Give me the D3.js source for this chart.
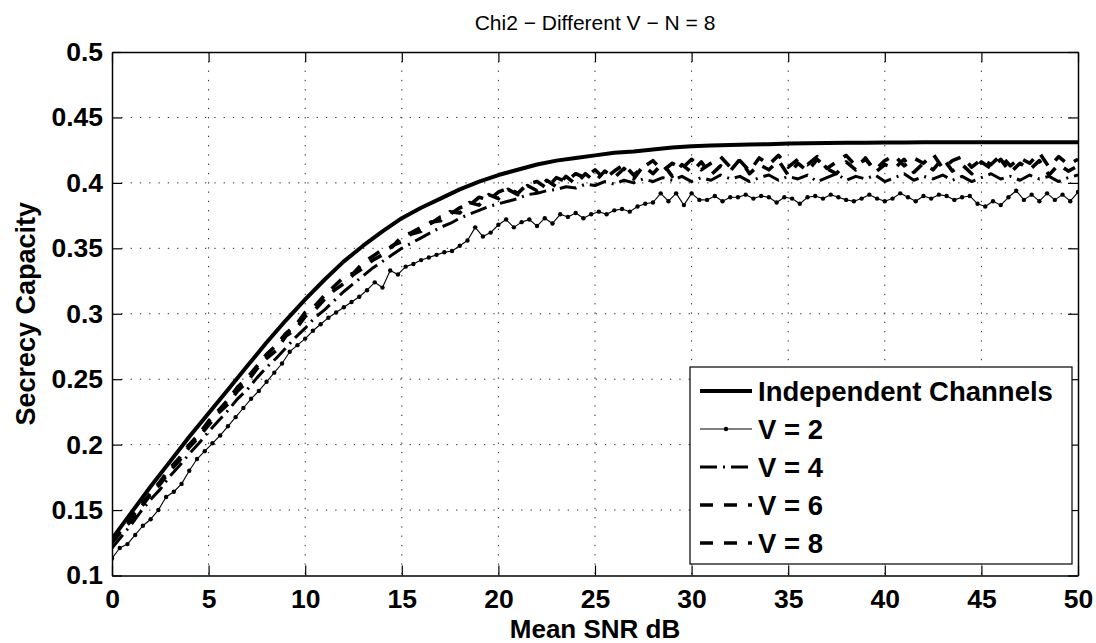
<!DOCTYPE html>
<html><head><meta charset="utf-8">
<script src="https://cdn.jsdelivr.net/npm/d3@7"></script>
<style>
body{margin:0;background:#fff}
svg{display:block}
text{font-family:"Liberation Sans",Arial,Helvetica,sans-serif;fill:#000}
</style>
</head><body>
<svg id="chart" width="1096" height="643"></svg>
<script>
// ---------- data ----------
const title = "Chi2 \u2212 Different V \u2212 N = 8";
const xLabel = "Mean SNR dB";
const yLabel = "Secrecy Capacity";
const xTicks = [0,5,10,15,20,25,30,35,40,45,50];
const yTicks = [0.1,0.15,0.2,0.25,0.3,0.35,0.4,0.45,0.5];
const seriesNames = ["Independent Channels","V = 2","V = 4","V = 6","V = 8"];

// Independent channels, 1 dB grid 0..50
const indep = [
.128,.148,.168,.187,.206,.224,.242,.260,.278,.295,
.311,.326,.340,.352,.363,.373,.381,.388,.395,.401,
.406,.410,.414,.417,.419,.421,.423,.424,.4255,.427,
.428,.4285,.429,.4293,.4296,.430,.4302,.4304,.4306,.4307,
.4308,.4309,.431,.431,.431,.431,.431,.431,.431,.431,
.431];

// V = 2, 0.4 dB grid 0..50
const v2 = [
.113,.121,.124,.131,.138,.143,.150,.160,.164,.170,
.180,.189,.195,.201,.207,.214,.221,.228,.235,.241,
.248,.255,.262,.271,.276,.281,.287,.292,.297,.301,
.305,.309,.313,.318,.324,.320,.333,.330,.336,.338,
.341,.343,.345,.347,.348,.352,.356,.366,.359,.362,
.368,.372,.366,.370,.372,.367,.373,.369,.376,.374,
.377,.373,.376,.378,.376,.379,.380,.378,.382,.384,
.385,.392,.386,.392,.383,.392,.387,.387,.390,.386,
.389,.389,.391,.388,.390,.389,.385,.389,.388,.384,
.389,.390,.388,.391,.389,.387,.386,.388,.391,.388,
.386,.388,.392,.389,.386,.390,.388,.391,.390,.387,
.389,.390,.384,.382,.386,.383,.389,.394,.387,.391,
.386,.392,.387,.391,.386,.393];

// V = 4, 0.5 dB grid 0..50
const v4 = [
.121,.130,.139,.149,.158,.166,.176,.184,.193,.201,
.210,.218,.226,.235,.242,.251,.259,.266,.274,.282,
.289,.297,.303,.310,.317,.323,.329,.335,.340,.345,
.350,.354,.358,.362,.366,.369,.373,.376,.379,.382,
.384,.386,.388,.391,.392,.394,.395,.397,.396,.399,
.398,.401,.399,.402,.400,.403,.401,.404,.402,.405,
.401,.404,.402,.406,.403,.405,.401,.404,.406,.402,
.405,.403,.406,.401,.404,.407,.402,.405,.403,.406,
.401,.404,.407,.402,.405,.403,.406,.402,.405,.401,
.404,.407,.403,.405,.402,.406,.403,.405,.401,.404,
.406];

// V = 6, 0.5 dB grid 0..50
const v6 = [
.125,.134,.142,.152,.162,.170,.180,.188,.198,.206,
.215,.224,.231,.241,.248,.258,.266,.272,.283,.288,
.298,.303,.311,.318,.323,.330,.335,.341,.345,.352,
.355,.361,.363,.370,.371,.378,.377,.385,.383,.391,
.388,.395,.391,.398,.394,.402,.397,.405,.399,.407,
.401,.409,.404,.411,.403,.413,.407,.415,.405,.414,
.408,.416,.406,.413,.409,.418,.407,.414,.410,.417,
.406,.415,.409,.418,.411,.407,.416,.410,.419,.408,
.414,.411,.418,.408,.415,.410,.419,.409,.414,.407,
.416,.411,.418,.408,.415,.410,.417,.406,.414,.409,
.413];

// V = 8, 0.5 dB grid 0..50
const v8 = [
.126,.135,.144,.154,.163,.172,.182,.190,.200,.208,
.218,.226,.234,.244,.251,.260,.269,.276,.285,.291,
.301,.306,.314,.321,.328,.331,.339,.344,.349,.351,
.359,.362,.366,.369,.374,.376,.381,.383,.389,.387,
.393,.396,.392,.399,.401,.396,.404,.401,.407,.404,
.410,.403,.409,.414,.406,.412,.417,.409,.415,.411,
.418,.410,.415,.420,.412,.417,.409,.419,.414,.421,
.412,.418,.414,.420,.411,.416,.421,.413,.418,.410,
.417,.421,.413,.419,.415,.422,.411,.417,.420,.412,
.418,.414,.421,.413,.419,.415,.423,.412,.420,.414,
.418];

// ---------- layout ----------
const L = 112, R = 1078, T = 52, B = 575.5;
const svg = d3.select("#chart");
const x = d3.scaleLinear().domain([0,50]).range([L,R]);
const y = d3.scaleLinear().domain([0.1,0.5]).range([B,T]);
const FS_TICK = 26.5, FS_LEG = 27.5;

// grid
const grid = svg.append("g").attr("stroke","#000").attr("stroke-width",1)
  .attr("stroke-dasharray","1.3,8").attr("opacity",0.85);
xTicks.slice(1,-1).forEach(t=>{
  grid.append("line").attr("x1",x(t)).attr("x2",x(t)).attr("y1",T).attr("y2",B);
});
yTicks.slice(1,-1).forEach(t=>{
  grid.append("line").attr("x1",L).attr("x2",R).attr("y1",y(t)).attr("y2",y(t));
});

// axes (MATLAB style box with inward ticks)
const tickLen = 10;
const axB = svg.append("g").attr("transform",`translate(0,${B})`)
  .call(d3.axisBottom(x).tickValues(xTicks).tickSizeInner(-tickLen).tickSizeOuter(0).tickPadding(14).tickFormat(d3.format("d")));
const axT = svg.append("g").attr("transform",`translate(0,${T})`)
  .call(d3.axisTop(x).tickValues(xTicks).tickSizeInner(-tickLen).tickSizeOuter(0).tickFormat(""));
const axL = svg.append("g").attr("transform",`translate(${L},0)`)
  .call(d3.axisLeft(y).tickValues(yTicks).tickSizeInner(-tickLen).tickSizeOuter(0).tickPadding(9).tickFormat(d=>String(+d.toFixed(2))));
const axR = svg.append("g").attr("transform",`translate(${R},0)`)
  .call(d3.axisRight(y).tickValues(yTicks).tickSizeInner(-tickLen).tickSizeOuter(0).tickFormat(""));
[axB,axT,axL,axR].forEach(a=>{
  a.select(".domain").attr("stroke","#000").attr("stroke-width",1.5);
  a.selectAll(".tick line").attr("stroke","#000").attr("stroke-width",1.2);
  a.selectAll("text").attr("font-size",FS_TICK).attr("font-weight","bold")
   .attr("font-family","'Liberation Sans',Arial,sans-serif").attr("fill","#000");
});
axB.selectAll(".tick text").attr("dy","0.71em");

// clip
svg.append("clipPath").attr("id","clip").append("rect")
  .attr("x",L).attr("y",T).attr("width",R-L).attr("height",B-T);
const plot = svg.append("g").attr("clip-path","url(#clip)");

function pts(arr){ const n=arr.length; return arr.map((v,i)=>[i*50/(n-1), v]); }
const line = d3.line().x(d=>x(d[0])).y(d=>y(d[1]));

const styles = [
  {data: indep, w: 4,   dash: null},
  {data: v2,    w: 1.1, dash: null, marker: true},
  {data: v4,    w: 3,   dash: "17,6,2,6"},
  {data: v6,    w: 3.6, dash: "13,11"},
  {data: v8,    w: 3.6, dash: "13,11"}
];
styles.forEach(s=>{
  const p = pts(s.data);
  plot.append("path").datum(p).attr("d",line).attr("fill","none")
    .attr("stroke","#000").attr("stroke-width",s.w)
    .attr("stroke-dasharray",s.dash).attr("stroke-linejoin","round");
  if(s.marker){
    plot.selectAll(null).data(p).enter().append("circle")
      .attr("cx",d=>x(d[0])).attr("cy",d=>y(d[1])).attr("r",2.2).attr("fill","#000");
  }
});

// legend
const lg = svg.append("g");
const LX0 = 690, LX1 = 1072, LY0 = 367, LY1 = 564;
lg.append("rect").attr("x",LX0).attr("y",LY0).attr("width",LX1-LX0).attr("height",LY1-LY0)
  .attr("fill","#fff").attr("stroke","#000").attr("stroke-width",1.2);
const rowY = [391,429,467,505,543];
seriesNames.forEach((name,i)=>{
  const s = styles[i], yy = rowY[i];
  lg.append("line").attr("x1",700).attr("x2",752).attr("y1",yy).attr("y2",yy)
    .attr("stroke","#000").attr("stroke-width",s.w).attr("stroke-dasharray",s.dash);
  if(s.marker) lg.append("circle").attr("cx",726).attr("cy",yy).attr("r",2.2).attr("fill","#000");
  lg.append("text").attr("x",758).attr("y",yy).attr("dy","0.36em")
    .attr("font-size",FS_LEG).attr("font-weight","bold").text(name);
});

// titles
svg.append("text").attr("x",(L+R)/2).attr("y",30).attr("text-anchor","middle")
  .attr("font-size",21).text(title);
svg.append("text").attr("x",(L+R)/2).attr("y",638).attr("text-anchor","middle")
  .attr("font-size",26).attr("font-weight","bold").text(xLabel);
svg.append("text").attr("transform",`translate(35,${(T+B)/2}) rotate(-90)`)
  .attr("text-anchor","middle").attr("font-size",27).attr("font-weight","bold").text(yLabel);
</script>
</body></html>
